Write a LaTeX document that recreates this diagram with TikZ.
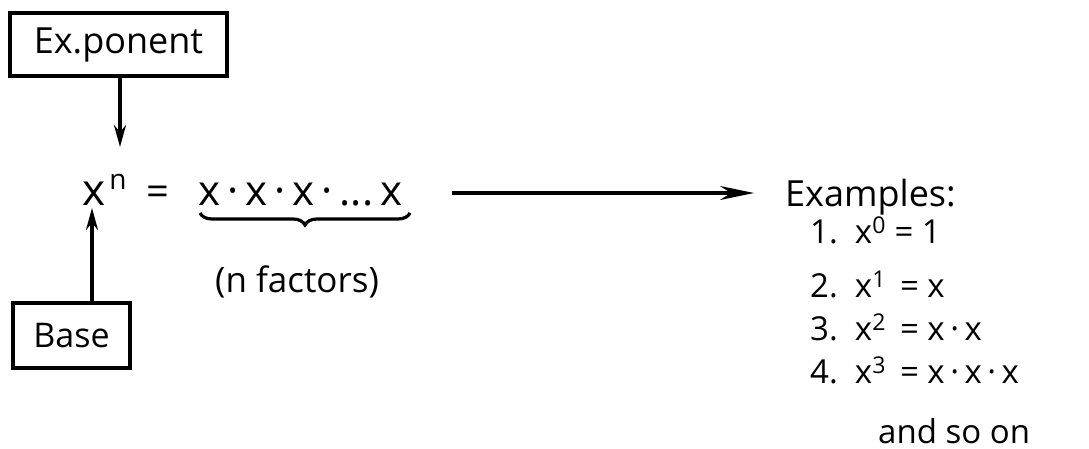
\documentclass[tikz,border=0pt]{standalone}
\usepackage{fontspec}
\setmainfont{Open Sans}
\usetikzlibrary{arrows.meta,decorations.pathreplacing}
\begin{document}
\begin{tikzpicture}[x=1pt,y=-1pt,
  boxed/.style={draw,line width=3.2pt,inner sep=0pt},
  txt/.style={inner sep=0pt,anchor=base west},
  conn/.style={line width=3.2pt,-{Stealth[length=22pt,width=12pt]}},
  bigconn/.style={line width=3.2pt,-{Stealth[length=34pt,width=14pt]}}]
\useasboundingbox (0,0) rectangle (1089,449);
% boxes
\node[boxed,minimum width=217pt,minimum height=63pt,font=\fontsize{36}{40}\selectfont] (exp) at (118.5,44.5) {Ex.ponent};
\node[boxed,minimum width=117pt,minimum height=65pt,font=\fontsize{34}{38}\selectfont] (base) at (71.5,335.5) {Base};
% main formula
\node[txt,font=\fontsize{44}{48}\selectfont] (xn) at (82,205) {x\hspace{4pt}\raisebox{16pt}{\fontsize{28}{30}\selectfont n}};
\node[txt,font=\fontsize{40}{44}\selectfont] (eq) at (146,205) {=};
\node[txt,font=\fontsize{42}{46}\selectfont] (prod) at (198,205) {x\,·\,x\,·\,x\,·\,...\,x};
\node[txt,font=\fontsize{35}{40}\selectfont] (nf) at (215,292) {(n factors)};
% examples
\node[txt,font=\fontsize{36}{40}\selectfont] (ex) at (785,207) {Examples:};
\node[txt,font=\fontsize{33}{38}\selectfont] (e1) at (810,243) {1.\ \ x\textsuperscript{0} = 1};
\node[txt,font=\fontsize{33}{38}\selectfont] (e2) at (810,297) {2.\ \ x\textsuperscript{1} \,= x};
\node[txt,font=\fontsize{33}{38}\selectfont] (e3) at (810,340) {3.\ \ x\textsuperscript{2} \,= x\,·\,x};
\node[txt,font=\fontsize{33}{38}\selectfont] (e4) at (810,383) {4.\ \ x\textsuperscript{3} \,= x\,·\,x\,·\,x};
\node[txt,font=\fontsize{33}{38}\selectfont] (e5) at (878,443) {and so on};
% connector ends
\coordinate (expTip) at (120,147);
\coordinate (baseTip) at (92,208);
\coordinate (a1) at (452,193);
\coordinate (a2) at (754,193);
\coordinate (b1) at (200,213);
\coordinate (b2) at (410,213);
\draw[conn] (exp.south -| expTip) -- (expTip);
\draw[conn] (base.north -| baseTip) -- (baseTip);
\draw[bigconn] (a1) -- (a2);
\draw[line width=3.2pt,decorate,decoration={brace,mirror,amplitude=12pt}] (b1) -- (b2);
\end{tikzpicture}
\end{document}
